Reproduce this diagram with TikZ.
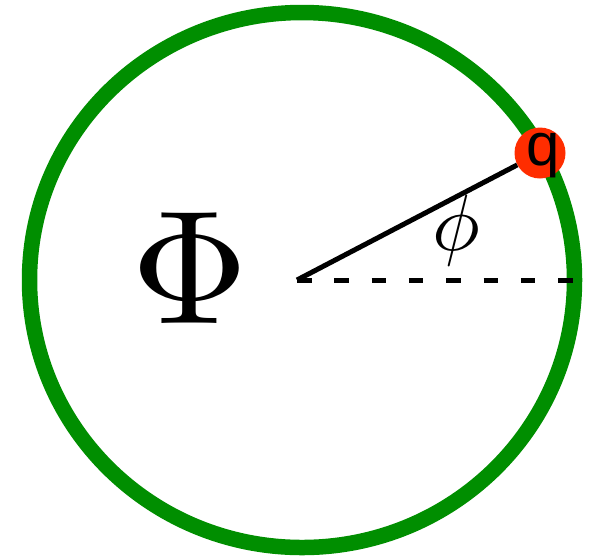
\documentclass[tikz,border=0pt]{standalone}
\usepackage{fontspec}
\usepackage{tikz}
\usetikzlibrary{positioning}
\newfontfamily\chargefont{Liberation Sans}
\definecolor{ring1}{HTML}{008E00}
\definecolor{red1}{HTML}{FF2D00}
\definecolor{ink}{HTML}{000000}

\begin{document}
\begin{tikzpicture}[x=1pt,y=-1pt]
  \useasboundingbox (0,0) rectangle (593,558);
  % ring
  \draw[ring1,line width=15.5pt] (302,280) ellipse [x radius=272.5pt, y radius=267.5pt];
  % centre and rim
  \coordinate (o) at (297,280);
  \coordinate (rim) at (576,280);
  % charge on the ring
  \node[circle,fill=red1,inner sep=0pt,minimum size=51pt] (q) at (540,153) {};
  \node[anchor=base,inner sep=0pt,font=\chargefont\fontsize{60}{60}\selectfont]
       (qtext) at (543,165) {q};
  % radius and reference line
  \draw[ink,line width=5pt] (o) -- (q);
  \draw[ink,line width=5pt,dash pattern=on 14.5pt off 22.8pt] (o) -- (rim);
  % labels
  \node[anchor=base,inner sep=0pt,scale=8] (angle) at (456,250) {$\phi$};
  \node[anchor=base,inner sep=0pt,scale=16.2] (flux) at (190,323) {$\Phi$};
\end{tikzpicture}
\end{document}
